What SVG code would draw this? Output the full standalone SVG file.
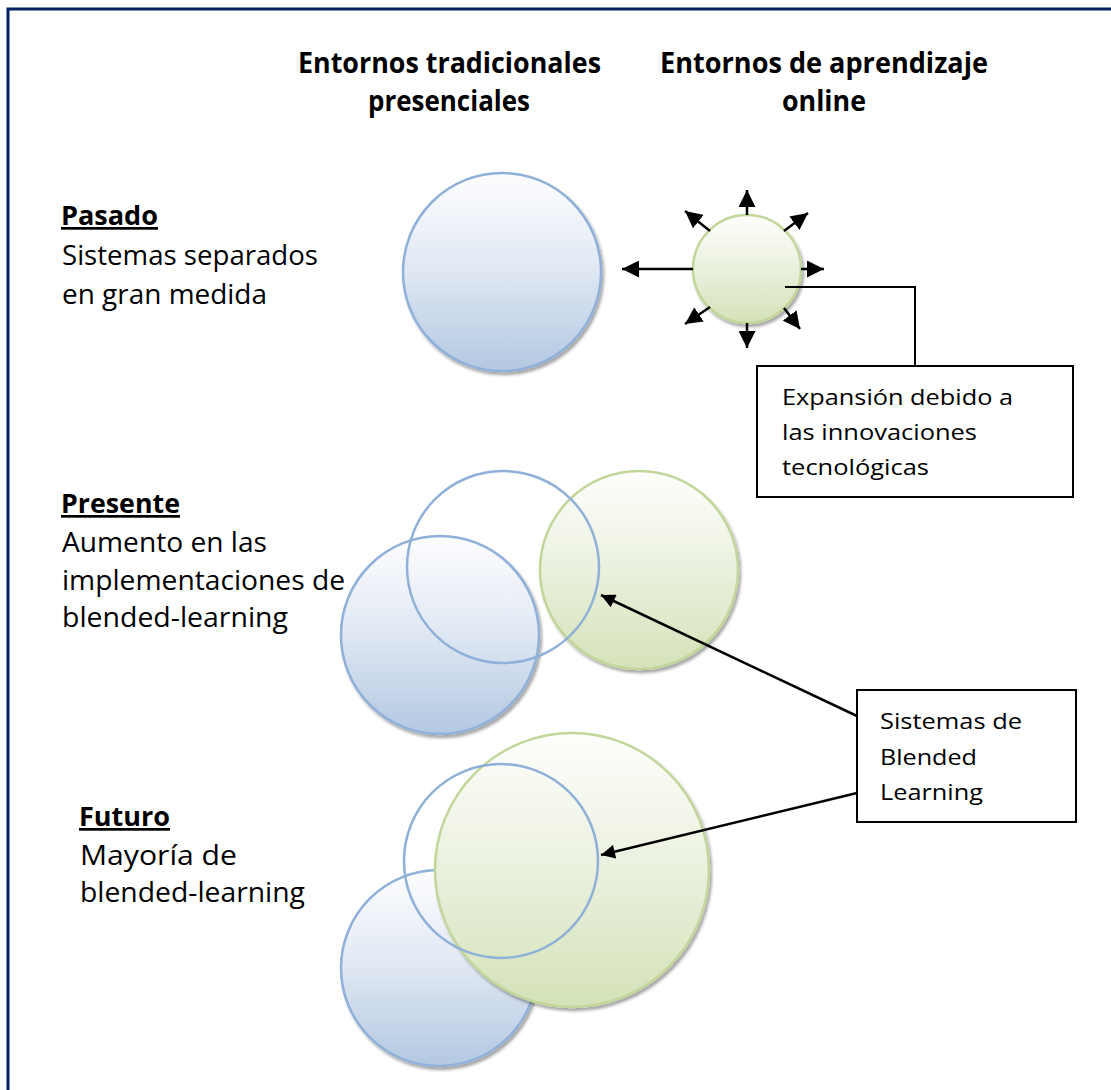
<svg xmlns="http://www.w3.org/2000/svg" width="1111" height="1090" viewBox="0 0 1111 1090">
<defs>
  <linearGradient id="gBlue" x1="0" y1="0" x2="0" y2="1">
    <stop offset="0" stop-color="#fdfdfe"/>
    <stop offset="0.45" stop-color="#e3eaf4"/>
    <stop offset="1" stop-color="#b3c8e2"/>
  </linearGradient>
  <linearGradient id="gGreen" x1="0" y1="0" x2="0" y2="1">
    <stop offset="0" stop-color="#fefefc"/>
    <stop offset="0.45" stop-color="#ecf2e1"/>
    <stop offset="1" stop-color="#d4e2b8"/>
  </linearGradient>
  <filter id="shadow" x="-20%" y="-20%" width="140%" height="140%">
    <feGaussianBlur in="SourceAlpha" stdDeviation="1.5"/>
    <feOffset dx="2" dy="3" result="b"/>
    <feComponentTransfer><feFuncA type="linear" slope="0.35"/></feComponentTransfer>
    <feMerge><feMergeNode/><feMergeNode in="SourceGraphic"/></feMerge>
  </filter>
  <marker id="ah" viewBox="0 0 10 10" refX="10" refY="5" markerUnits="userSpaceOnUse" markerWidth="17" markerHeight="17" orient="auto">
    <path d="M0,0 L10,5 L0,10 z" fill="#000"/>
  </marker>
  <marker id="ah2" viewBox="0 0 10 10" refX="10" refY="5" markerUnits="userSpaceOnUse" markerWidth="16" markerHeight="14" orient="auto">
    <path d="M0,0 L10,5 L0,10 z" fill="#000"/>
  </marker>
</defs>
<style>
  text { font-family: "Open Sans", "Noto Sans", "Liberation Sans", sans-serif; fill: #000; }
  .hdr { font-size: 29px; font-weight: bold; }
  .ttl { font-size: 27px; font-weight: bold; text-decoration: underline; }
  .body { font-size: 27px; }
  .lbl { font-size: 22px; }
  .blue { fill: url(#gBlue); stroke: #8fb0d8; stroke-width: 2.5; filter: url(#shadow); }
  .green { fill: url(#gGreen); stroke: #c2d69a; stroke-width: 2.5; filter: url(#shadow); }
  .ring { fill: none; stroke: #8fb0d8; stroke-width: 2.5; }
  .box { fill: #fff; stroke: #000; stroke-width: 2; }
  .conn { fill: none; stroke: #000; stroke-width: 2.5; }
</style>

<rect width="1111" height="1090" fill="#fff"/>
<path d="M8,1090 L8,9 L1111,9" fill="none" stroke="#002060" stroke-width="3"/>

<g id="headers">
  <text class="hdr" x="298" y="73" textLength="303" lengthAdjust="spacingAndGlyphs">Entornos tradicionales</text>
  <text class="hdr" x="368" y="111" textLength="162" lengthAdjust="spacingAndGlyphs">presenciales</text>
  <text class="hdr" x="660" y="73" textLength="328" lengthAdjust="spacingAndGlyphs">Entornos de aprendizaje</text>
  <text class="hdr" x="782" y="111" textLength="84" lengthAdjust="spacingAndGlyphs">online</text>
</g>

<g id="pasado-label">
  <text class="ttl" x="61" y="225" textLength="97" lengthAdjust="spacingAndGlyphs">Pasado</text>
  <text class="body" x="62" y="265" textLength="256" lengthAdjust="spacingAndGlyphs">Sistemas separados</text>
  <text class="body" x="62" y="304" textLength="205" lengthAdjust="spacingAndGlyphs">en gran medida</text>
</g>

<g id="presente-label">
  <text class="ttl" x="61" y="513" textLength="119" lengthAdjust="spacingAndGlyphs">Presente</text>
  <text class="body" x="62" y="552" textLength="205" lengthAdjust="spacingAndGlyphs">Aumento en las</text>
  <text class="body" x="62" y="590" textLength="283" lengthAdjust="spacingAndGlyphs">implementaciones de</text>
  <text class="body" x="62" y="627" textLength="226" lengthAdjust="spacingAndGlyphs">blended-learning</text>
</g>

<g id="futuro-label">
  <text class="ttl" x="79" y="826" textLength="91" lengthAdjust="spacingAndGlyphs">Futuro</text>
  <text class="body" x="80" y="865" textLength="157" lengthAdjust="spacingAndGlyphs">Mayoría de</text>
  <text class="body" x="80" y="902" textLength="225" lengthAdjust="spacingAndGlyphs">blended-learning</text>
</g>

<g id="pasado-traditional">
  <circle class="blue" cx="502" cy="272" r="99"/>
</g>
<g id="pasado-online">
  <circle class="green" cx="747" cy="269" r="54"/>
</g>

<g id="presente-circles">
  <circle class="blue" cx="440" cy="635" r="99"/>
  <circle class="green" cx="639" cy="570" r="99"/>
  <circle class="ring" cx="503" cy="567" r="96"/>
</g>

<g id="futuro-circles">
  <circle class="blue" cx="439" cy="968" r="98"/>
  <circle class="green" cx="572" cy="870" r="137"/>
  <circle class="ring" cx="501" cy="861" r="97"/>
</g>

<g id="box-expansion">
  <rect class="box" x="757" y="366" width="316" height="131"/>
  <text class="lbl" x="782" y="405" textLength="231" lengthAdjust="spacingAndGlyphs">Expansión debido a</text>
  <text class="lbl" x="782" y="440" textLength="195" lengthAdjust="spacingAndGlyphs">las innovaciones</text>
  <text class="lbl" x="782" y="475" textLength="147" lengthAdjust="spacingAndGlyphs">tecnológicas</text>
</g>

<g id="box-blended">
  <rect class="box" x="857" y="690" width="219" height="132"/>
  <text class="lbl" x="880" y="729" textLength="142" lengthAdjust="spacingAndGlyphs">Sistemas de</text>
  <text class="lbl" x="880" y="765" textLength="97" lengthAdjust="spacingAndGlyphs">Blended</text>
  <text class="lbl" x="880" y="800" textLength="103" lengthAdjust="spacingAndGlyphs">Learning</text>
</g>

<g id="connectors">
  <line class="conn" x1="693" y1="269" x2="622" y2="269" marker-end="url(#ah)"/>
  <line class="conn" x1="747" y1="215" x2="747" y2="190" marker-end="url(#ah)"/>
  <line class="conn" x1="801" y1="269" x2="824" y2="269" marker-end="url(#ah)"/>
  <line class="conn" x1="747" y1="323" x2="747" y2="348" marker-end="url(#ah)"/>
  <line class="conn" x1="710" y1="231" x2="685" y2="211" marker-end="url(#ah)"/>
  <line class="conn" x1="784" y1="231" x2="808" y2="213" marker-end="url(#ah)"/>
  <line class="conn" x1="710" y1="307" x2="685" y2="324" marker-end="url(#ah)"/>
  <line class="conn" x1="784" y1="308" x2="800" y2="329" marker-end="url(#ah)"/>
  <polyline class="conn" points="785,287 915,287 915,366" style="stroke-width:2"/>
  <line class="conn" x1="857" y1="716" x2="601" y2="595" marker-end="url(#ah2)"/>
  <line class="conn" x1="857" y1="793" x2="601" y2="855" marker-end="url(#ah2)"/>
</g>
</svg>
